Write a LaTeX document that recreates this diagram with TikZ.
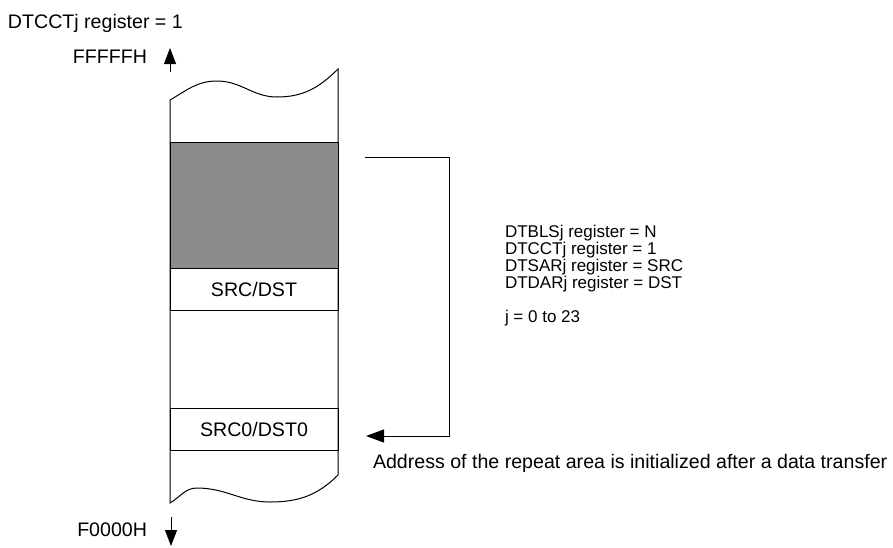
\documentclass[tikz,border=0pt]{standalone}
\usepackage{fontspec}
\setmainfont{Liberation Sans}
\usetikzlibrary{arrows.meta}
\definecolor{shade}{RGB}{140,140,140}
\newcommand\diagfont{\fontsize{19.6}{17}\selectfont\lineskiplimit=-20pt\relax\lineskip=0pt\relax}
\newcommand\blockfont{\fontsize{17}{17}\selectfont\lineskiplimit=-20pt\relax\lineskip=0pt\relax}
\begin{document}
\begin{tikzpicture}[x=1pt,y=-1pt,
  every node/.style={inner sep=0pt,outer sep=0pt,font=\diagfont},
  rowbox/.style={draw,line width=1pt,minimum width=168pt,anchor=north west},
  conn/.style={line width=1pt,-{Triangle[length=18pt,width=13pt]}},
  addr/.style={line width=1pt,-{Triangle[length=16pt,width=12pt]}},
  lbl/.style={anchor=base west},
]
\useasboundingbox (0,0) rectangle (893,547);
% memory column outline
\draw[line width=1pt,fill=white]
  (170,100) to[out=30,in=180] (217,81) to[out=0,in=180] (277,97) to[out=0,in=225] (338,69)
  -- (338,475)
  to[out=225,in=0] (270,502) to[out=180,in=0] (197,488) to[out=180,in=30] (170,503)
  -- cycle;
% rows
\node[rowbox,fill=shade,minimum height=126pt] (area) at (170,142) {};
\node[rowbox,minimum height=42pt] (srcdst) at (170,268) {SRC/DST};
\node[rowbox,minimum height=42pt] (src0) at (170,408) {SRC0/DST0};
% address arrows
\coordinate (upt) at (170,72);
\coordinate (uph) at (170,48);
\coordinate (dnt) at (171,517);
\coordinate (dnh) at (171,546);
\draw[addr] (upt) -- (uph);
\draw[addr] (dnt) -- (dnh);
% repeat bracket
\coordinate (bs) at (365,157);
\coordinate (bc1) at (449,157);
\coordinate (bc2) at (449,436);
\coordinate (be) at (366,436);
\draw[conn] (bs) -- (bc1) -- (bc2) -- (be);
% labels
\node[lbl] (title) at (8,28) {DTCCTj register = 1};
\node[anchor=base east] (ffh) at (147,63) {FFFFFH};
\node[anchor=base east] (f0h) at (147,536) {F0000H};
\node[anchor=base west,align=left,font=\blockfont] (regs) at (505,322) {DTBLSj register = N\\DTCCTj register = 1\\DTSARj register = SRC\\DTDARj register = DST\\[17pt]j = 0 to 23};
\node[lbl] (note) at (373,468) {Address of the repeat area is initialized after a data transfer};
\end{tikzpicture}
\end{document}
